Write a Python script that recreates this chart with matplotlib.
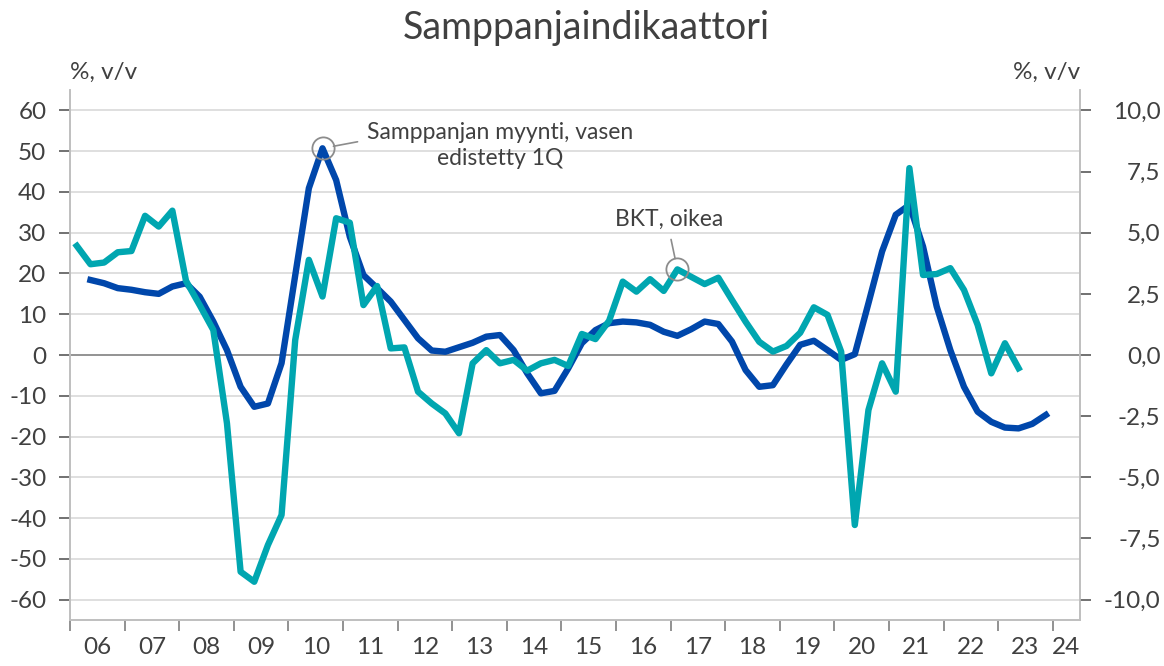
import matplotlib.pyplot as plt
import numpy as np

# quarterly y/y changes, %; champagne sales led by one quarter (left axis), GDP (right axis)
sales_start = 2006.25   # first quarter: 2006Q2
sales = [18.4, 17.6, 16.4,
         16.0, 15.4, 15.0, 16.8,
         17.6, 14.3, 8.2, 1.2,
         -7.8, -12.7, -11.9, -2.0,
         19.5, 40.9, 50.7, 42.9,
         29.0, 19.6, 16.4, 13.1,
         8.6, 4.1, 1.1, 0.8,
         1.9, 3.0, 4.5, 4.9,
         1.2, -4.5, -9.4, -8.8,
         -3.3, 2.9, 6.1, 7.8,
         8.2, 8.0, 7.4, 5.7,
         4.7, 6.3, 8.2, 7.6,
         3.3, -3.7, -7.8, -7.4,
         -2.3, 2.5, 3.5, 1.2,
         -1.2, 0.2, 12.7, 25.4,
         34.4, 36.8, 26.6, 11.9,
         1.2, -7.8, -13.9, -16.4,
         -17.8, -18.0, -16.9, -14.7]

gdp_start = 2006.0      # first quarter: 2006Q1
gdp = [4.46, 3.71, 3.78, 4.20,
       4.25, 5.69, 5.25, 5.90,
       3.03, 2.04, 1.02, -2.79,
       -8.86, -9.27, -7.77, -6.54,
       0.61, 3.89, 2.39, 5.59,
       5.41, 2.04, 2.82, 0.27,
       0.31, -1.50, -1.98, -2.39,
       -3.20, -0.34, 0.20, -0.34,
       -0.20, -0.64, -0.34, -0.20,
       -0.45, 0.86, 0.65, 1.40,
       3.00, 2.59, 3.10, 2.62,
       3.50, 3.20, 2.90, 3.16,
       2.25, 1.36, 0.54, 0.14,
       0.37, 0.91, 1.95, 1.64,
       0.14, -6.95, -2.25, -0.34,
       -1.50, 7.64, 3.27, 3.31,
       3.55, 2.66, 1.23, -0.75,
       0.48, -0.54]

years = list(range(2006, 2025))
year_labels = [f"{y % 100:02d}" for y in years]
left_ticks = list(range(-60, 61, 10))
right_ticks = [-10.0, -7.5, -5.0, -2.5, 0.0, 2.5, 5.0, 7.5, 10.0]

# which points get the callout circles
sales_peak = (2010, 3)
gdp_mark = (2017, 1)

BLUE = '#0047AB'
TEAL = '#00A6B0'
TXT = '#404040'
FONT = ['Lato', 'DejaVu Sans']

plt.rcParams['font.family'] = FONT


def quarter_x(start, n):
    # points sit in the middle of each quarter
    return start + np.arange(n) * 0.25 + 0.125


x_sales = quarter_x(sales_start, len(sales))
x_gdp = quarter_x(gdp_start, len(gdp))

fig = plt.figure(figsize=(11.64, 6.66), dpi=100)
ax = fig.add_axes([70 / 1164, 1 - 620 / 666, 1010 / 1164, 530 / 666])
ax2 = ax.twinx()

ax.set_xlim(2006.0, 2024.5)
ax.set_ylim(-65, 65)
ax2.set_ylim(-65 / 6, 65 / 6)

# grid (left axis only)
for v in left_ticks:
    if v == 0:
        continue
    ax.axhline(v, color='#D9D9D9', lw=1.2, zorder=0)
ax.axhline(0, color='#808080', lw=1.2, zorder=1)

ax.plot(x_sales, sales, color=BLUE, lw=4.6, solid_joinstyle='round', zorder=3)
ax2.plot(x_gdp, gdp, color=TEAL, lw=4.6, solid_joinstyle='round', zorder=3)

# x axis: ticks on year boundaries, labels mid-year
ax.set_xticks(years)
ax.set_xticklabels([])
label_pos = [y + 0.5 for y in years[:-1]] + [(years[-1] + 2024.5) / 2]
ax.set_xticks(label_pos, minor=True)
ax.set_xticklabels(year_labels, minor=True)
ax.tick_params(axis='x', which='major', length=8, width=1.2, color='#7F7F7F')
ax.tick_params(axis='x', which='minor', length=0, pad=12, labelsize=17.5, labelcolor=TXT)

ax.set_yticks(left_ticks)
ax.set_yticklabels([str(v) for v in left_ticks])
ax.tick_params(axis='y', length=8, width=1.2, color='#595959', pad=9,
               labelsize=17.5, labelcolor=TXT)

ax2.set_yticks(right_ticks)
ax2.set_yticklabels([f"{v:.1f}".replace('.', ',') for v in right_ticks])
ax2.tick_params(axis='y', length=8, width=1.2, color='#595959', pad=50,
                labelsize=17.5, labelcolor=TXT)
for lab in ax2.get_yticklabels():
    lab.set_horizontalalignment('right')

for a in (ax, ax2):
    a.spines['top'].set_visible(False)
    for s in ('left', 'right', 'bottom'):
        a.spines[s].set_color('#BFBFBF')
        a.spines[s].set_linewidth(1.2)

# callouts
i = (sales_peak[0] - 2006) * 4 + sales_peak[1] - 2
ax.plot(x_sales[i], sales[i], 'o', ms=16, mfc='none', mec='#8C8C8C', mew=1.3, zorder=5)
ax.annotate("Samppanjan myynti, vasen\nedistetty 1Q", xy=(x_sales[i], sales[i]),
            xytext=(128, 2), textcoords='offset points', ha='center', va='center',
            fontsize=16.5, color=TXT, linespacing=1.25,
            arrowprops=dict(arrowstyle='-', color='#8C8C8C', lw=1.2,
                            relpos=(0, 0.62), shrinkA=5, shrinkB=8))

j = (gdp_mark[0] - 2006) * 4 + gdp_mark[1] - 1
ax2.plot(x_gdp[j], gdp[j], 'o', ms=16, mfc='none', mec='#8C8C8C', mew=1.3, zorder=5)
ax2.annotate("BKT, oikea", xy=(x_gdp[j], gdp[j]),
             xytext=(-6, 36), textcoords='offset points', ha='center', va='center',
             fontsize=16.5, color=TXT,
             arrowprops=dict(arrowstyle='-', color='#8C8C8C', lw=1.2,
                             relpos=(0.5, 0), shrinkA=5, shrinkB=8))

fig.text(586 / 1164, 1 - 28 / 666, "Samppanjaindikaattori", ha='center', va='center',
         fontsize=27, color=TXT)
fig.text(70 / 1164, 1 - 72 / 666, "%, v/v", ha='left', va='center', fontsize=17.5, color=TXT)
fig.text(1080 / 1164, 1 - 72 / 666, "%, v/v", ha='right', va='center', fontsize=17.5, color=TXT)

fig.savefig('out.png', dpi=100)
